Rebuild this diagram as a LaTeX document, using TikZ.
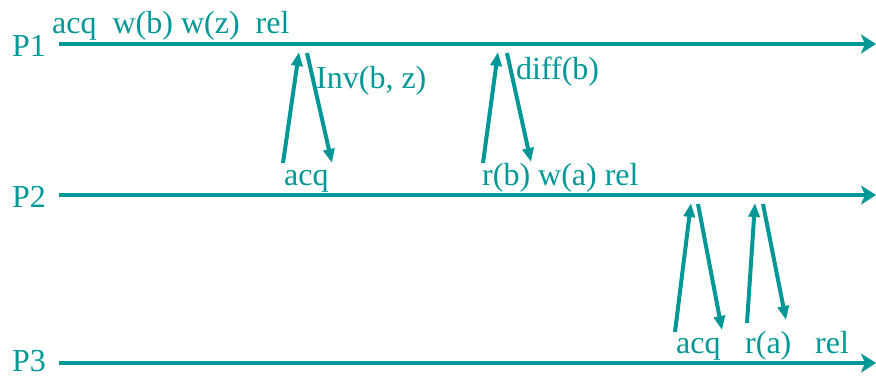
\documentclass[tikz,border=0pt]{standalone}
\usepackage{fontspec}
\setmainfont{Liberation Serif}
\usetikzlibrary{arrows.meta}
\definecolor{teal1}{RGB}{0,152,150}
\tikzset{
  lbl/.style={anchor=base west, inner sep=0pt, text=teal1, font=\fontsize{32}{38}\selectfont},
  proc/.style={draw=teal1, line width=4.3pt, -{Stealth[length=15pt,width=19pt,inset=4pt]}},
  msg/.style={draw=teal1, line width=4pt, -{Triangle[length=14pt,width=11pt]}, shorten >=0pt}
}
\begin{document}
\begin{tikzpicture}[x=1pt,y=-1pt]
\useasboundingbox (0,0) rectangle (876,378);
% process labels
\node[lbl] (p1) at (12,56) {P1};
\node[lbl] (p2) at (12,207) {P2};
\node[lbl] (p3) at (12,371) {P3};
% process lines
\coordinate (l1s) at (59,44); \coordinate (l1e) at (876,44);
\coordinate (l2s) at (59,195); \coordinate (l2e) at (876,195);
\coordinate (l3s) at (59,363); \coordinate (l3e) at (876,363);
\draw[proc] (l1s) -- (l1e);
\draw[proc] (l2s) -- (l2e);
\draw[proc] (l3s) -- (l3e);
% event labels
\node[lbl] (t1) at (52,33) {acq\ \ w(b) w(z)\ \ rel};
\node[lbl] (inv) at (316,88) {Inv(b, z)};
\node[lbl] (diff) at (516,79) {diff(b)};
\node[lbl] (acq2) at (284,185) {acq};
\node[lbl] (rb) at (482,185) {r(b) w(a) rel};
\node[lbl] (acq3) at (676,353) {acq};
\node[lbl] (ra) at (745,353) {r(a)};
\node[lbl] (rel3) at (815,353) {rel};
% message endpoints
\coordinate (a1s) at (283,163); \coordinate (a1e) at (299,52);
\coordinate (b1s) at (307,53);  \coordinate (b1e) at (332,163);
\coordinate (a2s) at (483,163); \coordinate (a2e) at (498,52);
\coordinate (b2s) at (507,53);  \coordinate (b2e) at (531,162);
\coordinate (a3s) at (675,332); \coordinate (a3e) at (691,203);
\coordinate (b3s) at (698,204); \coordinate (b3e) at (722,330);
\coordinate (a4s) at (747,323); \coordinate (a4e) at (755,203);
\coordinate (b4s) at (763,204); \coordinate (b4e) at (786,320);
\draw[msg] (a1s) -- (a1e);
\draw[msg] (b1s) -- (b1e);
\draw[msg] (a2s) -- (a2e);
\draw[msg] (b2s) -- (b2e);
\draw[msg] (a3s) -- (a3e);
\draw[msg] (b3s) -- (b3e);
\draw[msg] (a4s) -- (a4e);
\draw[msg] (b4s) -- (b4e);
\end{tikzpicture}
\end{document}
